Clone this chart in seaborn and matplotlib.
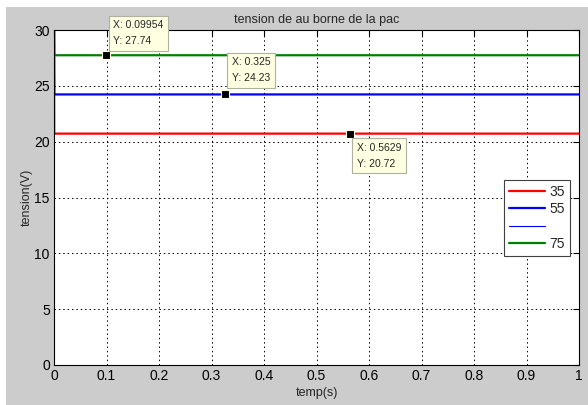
import numpy as np
import pandas as pd
import matplotlib
matplotlib.use("Agg")
import matplotlib.pyplot as plt
from matplotlib.lines import Line2D
from matplotlib.patches import Rectangle
import seaborn as sns

# ---- data ----
time_points = [0.0, 0.0005, 1.0]
v35 = [31.0, 20.72, 20.72]
v55 = [31.0, 24.23, 24.23]
v75 = [31.0, 27.74, 27.74]
legend_labels = ["35", "55", " ", "75"]
tip_x = [0.09954, 0.325, 0.5629]
tip_y = [27.74, 24.23, 20.72]
tip_text_x = ["0.09954", "0.325", "0.5629"]
tip_text_y = ["27.74", "24.23", "20.72"]
x_ticks = [0, 0.1, 0.2, 0.3, 0.4, 0.5, 0.6, 0.7, 0.8, 0.9, 1]
x_tick_labels = ["0", "0.1", "0.2", "0.3", "0.4", "0.5", "0.6", "0.7", "0.8", "0.9", "1"]
y_ticks = [0, 5, 10, 15, 20, 25, 30]

sns.set_theme(style="white")
plt.rcParams['font.family'] = ['Liberation Sans', 'DejaVu Sans']

fig = plt.figure(figsize=(5.88, 4.05), dpi=100)
fig.patch.set_facecolor("white")
fig.patches.append(Rectangle((6 / 588, 0), 1 - 6 / 588, (405 - 7) / 405,
                             transform=fig.transFigure, facecolor="#cccccc",
                             edgecolor="none", zorder=-10))

ax = fig.add_axes([54 / 588, (405 - 365) / 405, (579 - 54) / 588, (365 - 30) / 405])
ax.set_facecolor("white")

df = pd.DataFrame({"t": time_points * 3,
                   "v": v35 + v55 + v75,
                   "s": ["35"] * 3 + ["55"] * 3 + ["75"] * 3})
colors = {"35": "#ff0000", "55": "#0000ff", "75": "#008000"}
sns.lineplot(data=df, x="t", y="v", hue="s", palette=colors, ax=ax,
             linewidth=1.6, legend=False, estimator=None, sort=False)

ax.set_xlim(0, 1)
ax.set_ylim(0, 30)
ax.set_xticks(x_ticks)
ax.set_xticklabels(x_tick_labels)
ax.set_yticks(y_ticks)
ax.grid(True, color="black", linestyle=(0, (1.5, 3)), linewidth=0.7)
ax.tick_params(direction="in", top=True, right=True, length=4, width=0.8,
               colors="black", labelsize=10, pad=3)
for sp in ax.spines.values():
    sp.set_color("black")
    sp.set_linewidth(0.8)

ax.set_title("tension de au borne de la pac", fontsize=9, pad=5)
ax.set_xlabel("temp(s)", fontsize=9, labelpad=3)
ax.set_ylabel("tension(V)", fontsize=9, labelpad=1)

# data tips
offsets = [(4, 5, "left", "bottom"), (4, 7, "left", "bottom"), (4, -5, "left", "top")]
for x, y, tx, ty, (dx, dy, ha, va) in zip(tip_x, tip_y, tip_text_x, tip_text_y, offsets):
    ax.plot([x], [y], marker="s", ms=6, color="black", mec="#ffffe1", mew=0.8, zorder=5)
    ax.annotate(f"X: {tx}\nY: {ty}", xy=(x, y), xytext=(dx + 3, dy + (4 if dy > 0 else -4)),
                textcoords="offset pixels", ha=ha, va=va, fontsize=7.5,
                linespacing=1.75,
                bbox=dict(boxstyle="square,pad=0.45", facecolor="#ffffe1",
                          edgecolor="#b0b0a0", linewidth=0.8), zorder=6)

handles = [Line2D([], [], color="#ff0000", lw=1.6),
           Line2D([], [], color="#0000ff", lw=1.6),
           Line2D([], [], color="#0000ff", lw=0.8),
           Line2D([], [], color="#008000", lw=1.6)]
leg = ax.legend(handles, legend_labels, loc="upper left",
                bbox_to_anchor=((504 - 54) / 525, (365 - 180) / 335),
                fontsize=10, frameon=True, fancybox=False, framealpha=1,
                edgecolor="#404040", handlelength=2.6, handletextpad=0.3,
                borderpad=0.35, labelspacing=0.25, borderaxespad=0)
leg.get_frame().set_linewidth(0.8)

fig.savefig("out.png", dpi=100, facecolor=fig.get_facecolor())
